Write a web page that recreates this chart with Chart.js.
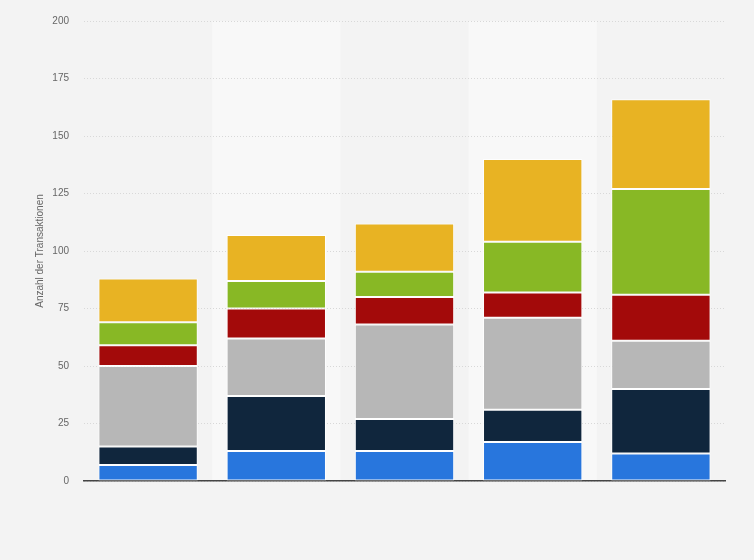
<!DOCTYPE html>
<html>
<head>
<meta charset="utf-8">
<script src="https://cdn.jsdelivr.net/npm/chart.js@4"></script>
<style>
  html, body { margin: 0; padding: 0; background: #f3f3f3; }
  #wrap { width: 754px; height: 560px; }
</style>
</head>
<body>
<div id="wrap"><canvas id="myChart"></canvas></div>
<script>
// categories (x labels are not shown in the original)
const categories = ['1', '2', '3', '4', '5'];

// stacked series, bottom to top
const serieBlau   = [7, 13, 13, 17, 12];
const serieNavy   = [8, 24, 14, 14, 28];
const serieGrau   = [35, 25, 41, 40, 21];
const serieRot    = [9, 13, 12, 11, 20];
const serieGruen  = [10, 12, 11, 22, 46];
const serieGelb   = [19, 20, 21, 36, 39];

const yTicks = [0, 25, 50, 75, 100, 125, 150, 175, 200];

const seriesList = [
    { label: 'Serie 1', data: serieBlau,  color: '#2876dd' },
    { label: 'Serie 2', data: serieNavy,  color: '#10263d' },
    { label: 'Serie 3', data: serieGrau,  color: '#b7b7b7' },
    { label: 'Serie 4', data: serieRot,   color: '#a30a0a' },
    { label: 'Serie 5', data: serieGruen, color: '#88b825' },
    { label: 'Serie 6', data: serieGelb,  color: '#e8b323' }
];

// lighter band behind every second category
const bandPlugin = {
    id: 'bands',
    beforeDraw(chart) {
        const { ctx, chartArea, scales } = chart;
        const x = scales.x;
        const step = (chartArea.right - chartArea.left) / categories.length;
        ctx.save();
        ctx.fillStyle = '#f8f8f8';
        for (let i = 1; i < categories.length; i += 2) {
            const c = x.getPixelForValue(i);
            ctx.fillRect(c - step / 2, chartArea.top, step, chartArea.bottom - chartArea.top);
        }
        ctx.restore();
    }
};

const ctx = document.getElementById('myChart').getContext('2d');
new Chart(ctx, {
    type: 'bar',
    data: {
        labels: categories,
        datasets: seriesList.map(s => ({
            label: s.label,
            data: s.data,
            backgroundColor: s.color,
            borderColor: 'rgba(255, 255, 255, 0.85)',
            borderWidth: 1,
            borderSkipped: false,
            barPercentage: 0.775,
            categoryPercentage: 1
        }))
    },
    options: {
        responsive: true,
        maintainAspectRatio: false,
        animation: false,
        layout: { padding: { top: 20, right: 29, left: 0, bottom: 0 } },
        plugins: {
            legend: { display: false },
            tooltip: { enabled: false }
        },
        scales: {
            x: {
                stacked: true,
                grid: { display: false },
                border: { display: true, color: '#444444', width: 1.5 },
                ticks: { display: false },
                afterFit: scale => { scale.height = 79; }
            },
            y: {
                stacked: true,
                min: 0,
                max: 200,
                afterBuildTicks: scale => { scale.ticks = yTicks.map(v => ({ value: v })); },
                grid: { color: '#d8d8d8', lineWidth: 1, drawTicks: false },
                border: { display: false, dash: [1, 2] },
                ticks: {
                    padding: 15,
                    color: '#666666',
                    font: { family: 'Arial, "Liberation Sans", sans-serif', size: 10 }
                },
                title: {
                    display: true,
                    text: 'Anzahl der Transaktionen',
                    color: '#666666',
                    padding: { top: 34, bottom: 0 },
                    font: { family: 'Arial, "Liberation Sans", sans-serif', size: 10 }
                },
                afterFit: scale => { scale.width = 84; }
            }
        }
    },
    plugins: [bandPlugin]
});
</script>
</body>
</html>
